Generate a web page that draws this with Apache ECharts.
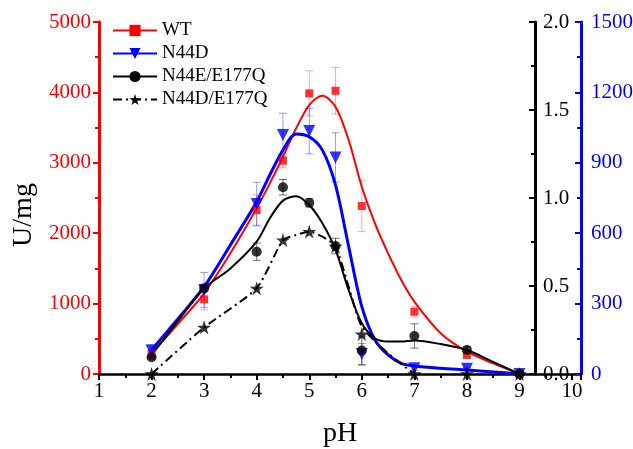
<!DOCTYPE html>
<html><head><meta charset="utf-8">
<script src="https://cdn.jsdelivr.net/npm/echarts@6/dist/echarts.min.js"></script>
<style>html,body{margin:0;padding:0;background:#fff}#c{width:633px;height:449px}</style>
</head><body><div id="c"></div>
<script>
// measured points
const pH = [2, 3, 4, 4.5, 5, 5.5, 6, 7, 8, 9];
const wt = [285, 1060, 2329, 3029, 3986, 4023, 2386, 885, 270, 0];
const wtErr = [60, 150, 215, 100, 320, 330, 360, 76, 30, 0];
const n44d = [100, 358, 724, 1018, 1035, 923, 85, 24, 22, 0];
const n44dErr = [25, 75, 93, 93, 97, 105, 45, 10, 8, 0];
const n44e = [0.095, 0.487, 0.695, 1.061, 0.973, 0.727, 0.133, 0.216, 0.136, 0];
const n44eErr = [0.01, 0.02, 0.049, 0.044, 0.024, 0.044, 0.082, 0.069, 0.02, 0];
const n44de = [0, 0.265, 0.487, 0.761, 0.809, 0.725, 0.227, 0, 0, 0];

// fitted curves
const curveX = [2, 2.5, 3, 3.5, 4, 4.25, 4.5, 4.75, 5, 5.25, 5.5, 5.75, 6, 6.25, 6.5, 6.75, 7, 7.5, 8, 8.5, 9];
const wtCurve = [293, 710, 1146, 1714, 2353, 2708, 3086, 3489, 3820, 3952, 3796, 3323, 2660, 2140, 1714, 1335, 1027, 578, 317, 150, 0];
const n44dCurve = [102, 235, 372, 550, 734, 848, 954, 1023, 1011, 954, 805, 543, 287, 145, 81, 45, 34, 24, 17, 9, 0];
const n44eCurve = [0.108, 0.3, 0.487, 0.60, 0.752, 0.885, 0.985, 1.01, 0.96, 0.856, 0.705, 0.477, 0.288, 0.203, 0.184, 0.184, 0.19, 0.17, 0.136, 0.068, 0];
const n44deCurveX = [2, 3, 4, 4.5, 4.75, 5, 5.25, 5.5, 5.75, 6, 6.5, 7];
const n44deCurve = [0, 0.265, 0.487, 0.761, 0.79, 0.809, 0.78, 0.725, 0.496, 0.269, 0.117, 0];

const leftTicks = [0, 1000, 2000, 3000, 4000, 5000];
const blackTicks = [0, 0.5, 1.0, 1.5, 2.0];
const blueTicks = [0, 300, 600, 900, 1200, 1500];

const FONT = 'Liberation Serif';
const STAR = 'path://M50 0L61.17 34.63L97.55 34.55L68.07 55.87L79.39 90.45L50 69L20.61 90.45L31.93 55.87L2.45 34.55L38.83 34.63Z';

const zip = (xs, ys) => xs.map((x, i) => [x, ys[i]]);
const zip3 = (xs, ys, es) => xs.map((x, i) => [x, ys[i], es[i]]);

function errRender(color) {
  return function (params, api) {
    const x = api.value(0), y = api.value(1), e = api.value(2);
    if (!e) return null;
    const t = api.coord([x, y + e]), b = api.coord([x, y - e]);
    const w = 4;
    const st = { stroke: color, lineWidth: 1 };
    return { type: 'group', children: [
      { type: 'line', shape: { x1: t[0], y1: t[1], x2: b[0], y2: b[1] }, style: st },
      { type: 'line', shape: { x1: t[0] - w, y1: t[1], x2: t[0] + w, y2: t[1] }, style: st },
      { type: 'line', shape: { x1: b[0] - w, y1: b[1], x2: b[0] + w, y2: b[1] }, style: st }
    ]};
  };
}

const chart = echarts.init(document.getElementById('c'), null, { renderer: 'canvas' });
const yBase = (color, ticks) => ({
  type: 'value', min: ticks[0], max: ticks[ticks.length - 1], interval: ticks[1] - ticks[0],
  splitLine: { show: false },
  axisLine: { show: true, lineStyle: { color: color, width: 3 } },
  axisTick: { show: true, length: 6, lineStyle: { color: color, width: 2 } },
  minorTick: { show: true, splitNumber: 2, length: 4, lineStyle: { color: color, width: 2 } },
  axisLabel: { color: color, fontFamily: FONT, fontSize: 21, margin: 8, formatter: v => String(v) }
});

const yLeft = Object.assign(yBase('#ff0000', leftTicks), {
  position: 'left', name: 'U/mg', nameLocation: 'middle', nameGap: 44,
  nameTextStyle: { color: '#000', fontFamily: FONT, fontSize: 28, padding: [0, 0, 0, -34] }
});
const yBlack = Object.assign(yBase('#000000', blackTicks), {
  position: 'right', offset: -46
});
yBlack.axisTick.inside = true; yBlack.minorTick.inside = true;
yBlack.axisLabel.formatter = v => v.toFixed(1);
const yBlue = Object.assign(yBase('#0000ff', blueTicks), {
  position: 'right', offset: 0
});
yBlue.axisTick.inside = true; yBlue.minorTick.inside = true;
yBlue.axisLabel.margin = 10;

const lineCommon = { smooth: 0.3, showSymbol: false, z: 2 };

const option = {
  backgroundColor: '#fff',
  animation: false,
  grid: { left: 99, right: 52, top: 22, bottom: 75, outerBoundsMode: 'none', containLabel: false },
  legend: {
    orient: 'vertical', left: 107, top: 16, itemWidth: 44, itemHeight: 14, itemGap: 4,
    textStyle: { fontFamily: FONT, fontSize: 19, color: '#000' },
    data: ['WT', 'N44D', 'N44E/E177Q', 'N44D/E177Q']
  },
  xAxis: {
    type: 'value', min: 1, max: 10.17, interval: 1,
    name: 'pH', nameLocation: 'middle', nameGap: 46,
    nameTextStyle: { fontFamily: FONT, fontSize: 28, color: '#000' },
    splitLine: { show: false },
    axisLine: { show: true, onZero: false, lineStyle: { color: '#000', width: 2.5 } },
    axisTick: { show: true, length: 6, lineStyle: { color: '#000', width: 2 } },
    minorTick: { show: true, splitNumber: 2, length: 4, lineStyle: { color: '#000', width: 2 } },
    axisLabel: { color: '#000', fontFamily: FONT, fontSize: 21, margin: 7,
      showMaxLabel: false,
      formatter: v => (Math.abs(v - Math.round(v)) < 1e-6 ? String(Math.round(v)) : '') }
  },
  yAxis: [yLeft, yBlack, yBlue],
  series: [
    Object.assign({ name: 'WT', type: 'line', data: zip(curveX, wtCurve), yAxisIndex: 0,
      symbol: 'rect', symbolSize: 9, color: '#ff0000',
      lineStyle: { color: '#ff0000', width: 2 } }, lineCommon),
    Object.assign({ name: 'N44D', type: 'line', data: zip(curveX, n44dCurve), yAxisIndex: 2,
      symbol: 'triangle', symbolRotate: 180, symbolSize: 12, color: '#0000ff',
      lineStyle: { color: '#0000ff', width: 3 } }, lineCommon),
    Object.assign({ name: 'N44E/E177Q', type: 'line', data: zip(curveX, n44eCurve), yAxisIndex: 1,
      symbol: 'circle', symbolSize: 10, color: '#000',
      lineStyle: { color: '#000', width: 2 } }, lineCommon),
    Object.assign({}, lineCommon, { name: 'N44D/E177Q', type: 'line', smooth: 0.2, data: zip(n44deCurveX, n44deCurve), yAxisIndex: 1,
      symbol: STAR, symbolSize: 14, color: '#000',
      lineStyle: { color: '#000', width: 2, type: [9, 4, 2, 4] } }),

    { type: 'custom', yAxisIndex: 0, data: zip3(pH, wt, wtErr), renderItem: errRender('rgba(255,0,0,0.35)'), encode: { x: 0, y: 1 }, z: 3, silent: true },
    { type: 'custom', yAxisIndex: 2, data: zip3(pH, n44d, n44dErr), renderItem: errRender('rgba(0,0,255,0.4)'), encode: { x: 0, y: 1 }, z: 3, silent: true },
    { type: 'custom', yAxisIndex: 1, data: zip3(pH, n44e, n44eErr), renderItem: errRender('rgba(0,0,0,0.55)'), encode: { x: 0, y: 1 }, z: 3, silent: true },

    { name: 'WT pts', type: 'scatter', yAxisIndex: 0, data: zip(pH, wt), symbol: 'rect', symbolSize: 8,
      itemStyle: { color: '#ff0000' }, z: 4 },
    { name: 'N44D pts', type: 'scatter', yAxisIndex: 2, data: zip(pH, n44d), symbol: 'triangle', symbolRotate: 180, symbolSize: 12,
      itemStyle: { color: '#0000ff' }, z: 4 },
    { name: 'N44E pts', type: 'scatter', yAxisIndex: 1, data: zip(pH, n44e), symbol: 'circle', symbolSize: 10,
      itemStyle: { color: '#000' }, z: 5 },
    { name: 'N44DE pts', type: 'scatter', yAxisIndex: 1, data: zip(pH, n44de), symbol: STAR, symbolSize: 14,
      itemStyle: { color: '#000' }, z: 5 }
  ]
};
chart.setOption(option);
</script></body></html>
